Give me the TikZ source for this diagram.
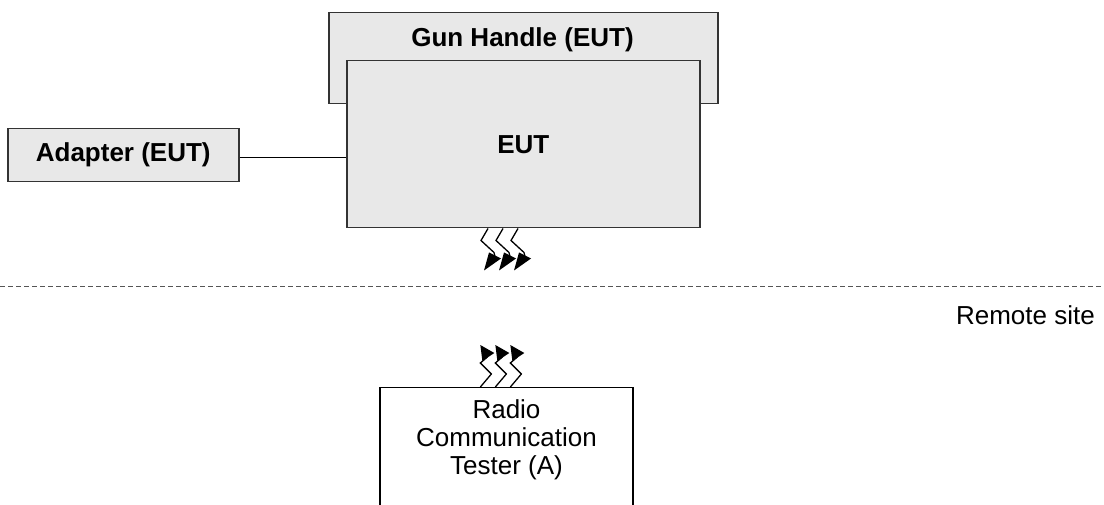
\documentclass[tikz,border=0pt]{standalone}
\usepackage{fontspec}
\setmainfont{Liberation Sans}
\definecolor{boxfill}{HTML}{E8E8E8}
\definecolor{boxline}{HTML}{333333}
\definecolor{dashline}{HTML}{555555}
\tikzset{
  unitbox/.style={draw=boxline, line width=1.5pt, fill=boxfill, inner sep=0pt,
    font=\fontsize{26}{30}\selectfont\bfseries},
  plainbox/.style={draw=black, line width=1.3pt, fill=white, inner sep=0pt},
  plaintext/.style={font=\fontsize{26}{28}\selectfont, align=center, inner sep=0pt},
  wire/.style={draw=black, line width=1.2pt},
  zigzag/.style={draw=black, line width=1.3pt, line join=miter},
  tiphead/.style={fill=black},
  sitesplit/.style={draw=dashline, line width=1pt, dash pattern=on 5pt off 3pt},
}
\begin{document}
\begin{tikzpicture}[x=1pt,y=-1pt]
\useasboundingbox (0,0) rectangle (1104,505);

% equipment under test
\node[unitbox, minimum width=389, minimum height=91, anchor=north west] (gun) at (328,12) {};
\node[font=\fontsize{26}{30}\selectfont\bfseries, inner sep=0pt] (gunlabel) at (522.5,40) {Gun Handle (EUT)};
\node[unitbox, minimum width=353, minimum height=167, anchor=north west] (eut) at (346,60) {EUT};
\node[unitbox, minimum width=231, minimum height=53, anchor=north west] (adapter) at (7,128) {Adapter (EUT)};
\draw[wire] ([yshift=-2.5pt]adapter.east) -- ([yshift=-2.5pt]adapter.east -| eut.west);

% radio link leaving the EUT
\foreach \dx in {0,15,30} {
  \begin{scope}[shift={(eut.south west)}, xshift=142pt+\dx pt]
    \draw[zigzag] (0,0) -- (-7,12) -- (6,24) -- (7,28);
    \fill[tiphead] (-4,42) -- (1,24) -- (13,30) -- cycle;
  \end{scope}
}

% boundary between test site and remote site
\coordinate (splitL) at (0,287);
\coordinate (splitR) at (1104,287);
\draw[sitesplit] (splitL) -- (splitR);
\node[plaintext, anchor=east] (remote) at (1095,315) {Remote site};

% radio communication tester at the remote site
\node[plainbox, minimum width=253, minimum height=150, anchor=north] (tester) at (506.5,387) {};
\node[plaintext] (testerlabel) at (506.5,440) {Radio\\Communication\\Tester (A)};

% radio link arriving at the tester
\foreach \dx in {0,15,30} {
  \begin{scope}[shift={(tester.north west)}, xshift=101pt+\dx pt]
    \draw[zigzag] (0,0) -- (11,-13) -- (0,-24) -- (7,-30);
    \fill[tiphead] (0,-42) -- (2,-26) -- (14,-34) -- cycle;
  \end{scope}
}
\end{tikzpicture}
\end{document}
